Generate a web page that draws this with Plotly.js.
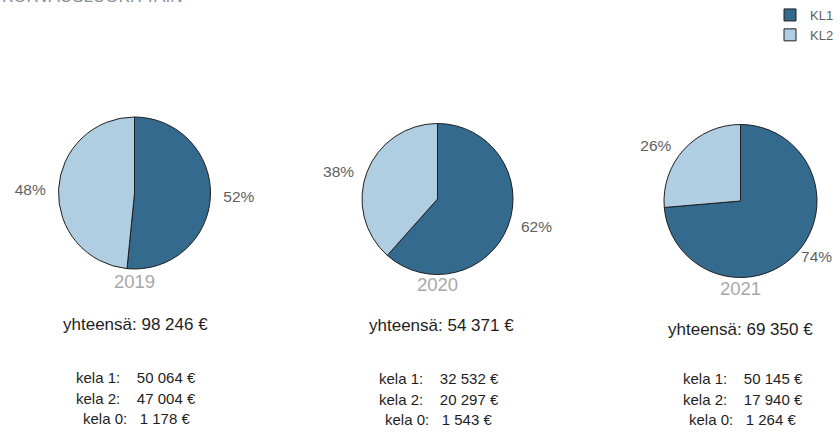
<!DOCTYPE html>
<html>
<head>
<meta charset="utf-8">
<script src="https://cdn.plot.ly/plotly-3.0.1.min.js"></script>
<style>
  html, body { margin: 0; padding: 0; background: #fff; }
  #chart { width: 840px; height: 432px; }
</style>
</head>
<body>
<div id="chart"></div>
<script>
// ---- data ----
const years = ['2019', '2020', '2021'];
const classLabels = ['KL1', 'KL2'];
const kela1 = [50064, 32532, 50145];
const kela2 = [47004, 20297, 17940];
const kela0 = [1178, 1543, 1264];
const totals = [98246, 54371, 69350];
const sliceColors = ['#346a8e', '#b0cee2'];
const titleText = 'KORVAUSLUOKITTAIN';

// ---- layout helpers ----
const W = 840, H = 432;
const px = x => x / W;
const py = y => 1 - y / H;
const fmt = n => String(n).replace(/\B(?=(\d{3})+(?!\d))/g, '\u00a0');
const NB = '\u00a0';
const pad = k => NB.repeat(k);

// pie geometry (pixels): center x, center y, radius
const pieGeom = [
  {cx: 134.5, cy: 193, r: 76},
  {cx: 437.5, cy: 199, r: 75.5},
  {cx: 740.5, cy: 201, r: 76.5}
];
const yearY = [281, 284, 288];
const totalY = [324, 325, 329];
const totalX = [135.5, 441, 740.5];
const kelaX = [136, 438.5, 742.5];
const kelaY = [378, 399, 419];
// percent label padding (non-breaking spaces) per pie, per slice
const labelPad = [[2, 2], [2, 2], [0, 2]];

const font = '"Liberation Sans", Arial, sans-serif';

const traces = years.map((yr, i) => {
  const g = pieGeom[i];
  return {
    type: 'pie',
    name: yr,
    labels: classLabels,
    values: [kela1[i], kela2[i]],
    sort: false,
    direction: 'clockwise',
    rotation: 0,
    marker: {colors: sliceColors, line: {color: '#1f1f1f', width: 1}},
    textposition: 'outside',
    texttemplate: labelPad[i].map(k => pad(k) + '%{percent:.0%}' + pad(k)),
    textfont: {family: font, size: 15.5, color: '#5f5f5f'},
    hoverinfo: 'label+percent',
    domain: {
      x: [px(g.cx - g.r), px(g.cx + g.r)],
      y: [py(g.cy + g.r), py(g.cy - g.r)]
    },
    showlegend: i === 0
  };
});

const annotations = [];
// cut-off title at top-left
annotations.push({
  xref: 'paper', yref: 'paper', x: px(184), y: py(8),
  xanchor: 'right', yanchor: 'bottom', showarrow: false,
  text: titleText, font: {family: font, size: 17, color: '#8a8f96'}
});
years.forEach((yr, i) => {
  annotations.push({
    xref: 'paper', yref: 'paper', x: px(pieGeom[i].cx), y: py(yearY[i]),
    xanchor: 'center', yanchor: 'middle', showarrow: false,
    text: yr, font: {family: font, size: 18.5, color: '#a8a8a8'}
  });
  annotations.push({
    xref: 'paper', yref: 'paper', x: px(totalX[i]), y: py(totalY[i]),
    xanchor: 'center', yanchor: 'middle', showarrow: false,
    text: 'yhteensä: ' + fmt(totals[i]) + NB + '€',
    font: {family: font, size: 17, color: '#1e1e1e'}
  });
  const lines = [
    ['kela 1:', kela1[i], 4],
    ['kela 2:', kela2[i], 4],
    ['kela 0:', kela0[i], 3]
  ];
  lines.forEach((ln, j) => {
    annotations.push({
      xref: 'paper', yref: 'paper', x: px(kelaX[i]), y: py(kelaY[j] + (i === 0 ? -1 : 0)),
      xanchor: 'center', yanchor: 'middle', showarrow: false,
      text: ln[0] + pad(ln[2]) + fmt(ln[1]) + NB + '€',
      font: {family: font, size: 15, color: '#1e1e1e'}
    });
  });
});

const layout = {
  width: W, height: H,
  margin: {l: 0, r: 0, t: 0, b: 0},
  paper_bgcolor: '#ffffff',
  plot_bgcolor: '#ffffff',
  font: {family: font},
  showlegend: true,
  legend: {
    x: px(770), y: 1, xanchor: 'left', yanchor: 'top',
    font: {family: font, size: 13, color: '#5f5f5f'},
    tracegroupgap: 0, traceorder: 'normal',
    bgcolor: 'rgba(0,0,0,0)'
  },
  annotations: annotations
};

Plotly.newPlot('chart', traces, layout, {displayModeBar: false, staticPlot: true});
</script>
</body>
</html>
